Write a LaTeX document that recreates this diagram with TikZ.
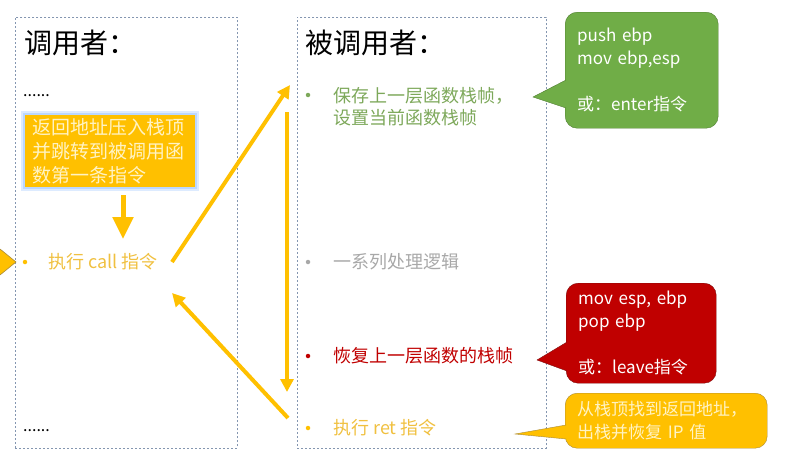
\documentclass[tikz,border=0pt]{standalone}
\usepackage{fontspec}
\setmainfont{Noto Sans CJK SC}
\usetikzlibrary{arrows.meta,calc}

\definecolor{gold}{HTML}{FFC000}
\definecolor{goldtext}{HTML}{F0C040}
\definecolor{paletext}{HTML}{FFF3C4}
\definecolor{panelgray}{HTML}{8496B0}
\definecolor{glowblue}{HTML}{BBD7FF}
\definecolor{leafgreen}{HTML}{70AD47}
\definecolor{leafdark}{HTML}{507E32}
\definecolor{greentext}{HTML}{7DA85A}
\definecolor{graytext}{HTML}{A8A8A8}
\definecolor{darkred}{HTML}{C00000}
\definecolor{reddark}{HTML}{7F1010}
\definecolor{goldedge}{HTML}{A88A3A}

\tikzset{
    panel/.style={draw=panelgray, dash pattern=on 2pt off 2pt, line width=0.8pt, anchor=north west},
    dot/.style={circle, fill=#1, inner sep=0pt, minimum size=4.5pt},
    item/.style={anchor=west, inner sep=0pt, align=left, font=\fontsize{18}{22}\selectfont},
    title/.style={anchor=west, inner sep=0pt, font=\fontsize{28}{28}\selectfont},
    callbox/.style={rounded corners=12pt, anchor=north west, align=left, inner xsep=12pt,
        text=white, font=\fontsize{17}{23}\selectfont},
    flow/.style={draw=gold, line width=4pt, -{Triangle[width=13pt,length=13pt]}},
}

\begin{document}
\begin{tikzpicture}[x=1pt,y=-1pt]
    \useasboundingbox (0,0) rectangle (785,455);

    % the two frames
    \node[panel, minimum width=222pt, minimum height=431pt] (caller) at (15,17) {};
    \node[panel, minimum width=249pt, minimum height=431pt] (callee) at (297,17) {};
    \node[title] (callertitle) at (24,43) {调用者：};
    \node[title] (calleetitle) at (305,43) {被调用者：};

    % caller side
    \node[anchor=west, inner sep=0pt, font=\fontsize{16}{16}\selectfont] (dotstop) at (23,96) {......};
    \node[anchor=west, inner sep=0pt, font=\fontsize{16}{16}\selectfont] (dotsbottom) at (23,431) {......};
    \node[anchor=north west, fill=gold,
        preaction={draw=glowblue!50, line width=8pt},
        preaction={draw=glowblue, line width=4pt},
        minimum width=170pt, minimum height=70pt, inner xsep=7pt, text width=156pt,
        align=left, text=paletext, font=\fontsize{19}{24}\selectfont] (pushbox) at (25,115)
        {返回地址压入栈顶\\并跳转到被调用函\\数第一条指令};
    \node[dot=gold] (calldot) at (25,262) {};
    \node[item, text=goldtext] (calltext) at (48,262) {执行 call 指令};
    \coordinate (pushout) at (123,195);
    \coordinate (pushin) at (123,239);
    \draw[draw=gold, line width=5pt, -{Triangle[width=20pt,length=22pt]}] (pushout) -- (pushin);
    % piece of a callout coming in from the left
    \filldraw[fill=gold, draw=goldedge, line width=0.6pt] (0,249) -- (16,262) -- (0,275);

    % callee side
    \node[dot=greentext] (savedot) at (308,95) {};
    \node[item, text=greentext] (savetext) at (333,107) {保存上一层函数栈帧，\\设置当前函数栈帧};
    \node[dot=graytext] (workdot) at (308,262) {};
    \node[item, text=graytext] (worktext) at (333,262) {一系列处理逻辑};
    \node[dot=darkred] (restoredot) at (308,356) {};
    \node[item, text=darkred] (restoretext) at (333,356) {恢复上一层函数的栈帧};
    \node[dot=gold] (retdot) at (308,428) {};
    \node[item, text=goldtext] (rettext) at (333,428) {执行 ret 指令};

    % flow arrows
    \coordinate (callout) at (172,262);
    \coordinate (callin) at (290,85);
    \coordinate (bodytop) at (287,112);
    \coordinate (bodyend) at (287,392);
    \coordinate (retout) at (288,418);
    \coordinate (retin) at (172,293);
    \draw[flow] (callout) -- (callin);
    \draw[flow] (bodytop) -- (bodyend);
    \draw[flow] (retout) -- (retin);

    % callouts
    \node[callbox, fill=leafgreen, draw=leafdark, minimum width=153pt, minimum height=116pt,
        text width=129pt] (enterbox) at (565,12)
        {push ebp\\mov ebp,esp\\[23pt]或：enter指令};
    \coordinate (entertip) at (533,97);
    \filldraw[fill=leafgreen, draw=leafdark] ([xshift=1pt]enterbox.west |- 0,80) -- (entertip)
        -- ([xshift=1pt]enterbox.west |- 0,108);

    \node[callbox, fill=darkred, draw=reddark, minimum width=150pt, minimum height=100pt,
        text width=126pt] (leavebox) at (566,283)
        {mov esp, ebp\\pop ebp\\[23pt]或：leave指令};
    \coordinate (leavetip) at (537,360);
    \filldraw[fill=darkred, draw=reddark] ([xshift=1pt]leavebox.west |- 0,342) -- (leavetip)
        -- ([xshift=1pt]leavebox.west |- 0,371);

    \node[callbox, fill=gold, draw=goldedge, minimum width=202pt, minimum height=55pt,
        text width=178pt, text=paletext, font=\fontsize{17}{23}\selectfont] (popbox) at (565,393)
        {从栈顶找到返回地址，\\出栈并恢复 IP 值};
    \coordinate (poptip) at (515,434);
    \filldraw[fill=gold, draw=goldedge] ([xshift=1pt]popbox.west |- 0,425) -- (poptip)
        -- ([xshift=1pt]popbox.west |- 0,439);
\end{tikzpicture}
\end{document}
